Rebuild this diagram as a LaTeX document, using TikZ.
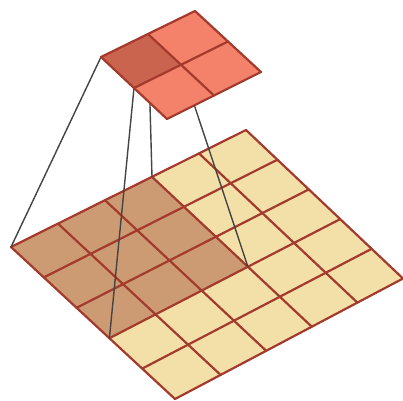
\documentclass[tikz,border=0pt]{standalone}
\definecolor{cellyellow}{HTML}{F3E0A9}
\definecolor{cellshade}{HTML}{CC9B74}
\definecolor{gridred}{HTML}{A33A2C}
\definecolor{topcell}{HTML}{F4826A}
\definecolor{topshade}{HTML}{CB644E}
\definecolor{wire}{HTML}{444444}
\tikzset{
  gridline/.style={draw=gridred,line width=2.2pt,line join=round,line cap=round},
  wireline/.style={draw=wire,line width=1.4pt,line cap=round},
}
\begin{document}
\begin{tikzpicture}[x=1pt,y=-1pt]
\useasboundingbox (0,0) rectangle (403,400);
\fill[white] (0,0) rectangle (403,400);
% lower grid: bilinear interpolation between its four corners
\def\Lx{11}\def\Ly{247}\def\Tx{246}\def\Ty{130}\def\Bx{175}\def\By{399}\def\Rx{403}\def\Ry{278.5}
\foreach \i in {0,...,5}{\foreach \j in {0,...,5}{
  \pgfmathsetmacro{\uu}{\i/5}\pgfmathsetmacro{\vv}{\j/5}
  \pgfmathsetmacro{\px}{(1-\uu)*(1-\vv)*\Lx+\uu*(1-\vv)*\Tx+(1-\uu)*\vv*\Bx+\uu*\vv*\Rx}
  \pgfmathsetmacro{\py}{(1-\uu)*(1-\vv)*\Ly+\uu*(1-\vv)*\Ty+(1-\uu)*\vv*\By+\uu*\vv*\Ry}
  \coordinate (a-\i-\j) at (\px,\py);
}}
\fill[cellyellow] (a-0-0) -- (a-5-0) -- (a-5-5) -- (a-0-5) -- cycle;
\fill[cellshade] (a-0-0) -- (a-3-0) -- (a-3-3) -- (a-0-3) -- cycle;
\foreach \i in {0,...,5}{
  \draw[gridline] (a-\i-0) -- (a-\i-5);
  \draw[gridline] (a-0-\i) -- (a-5-\i);
}
% upper grid corners
\coordinate (t00) at (101,57);
\coordinate (t20) at (195,11);
\coordinate (t22) at (261,72);
\coordinate (t02) at (167,119);
\coordinate (t10) at (148,34);
\coordinate (t01) at (134,88);
\coordinate (t11) at (181,65);
\coordinate (t21) at (228,41.5);
\coordinate (t12) at (214,95.5);
% wires, running behind the upper grid
\draw[wireline] (t00) -- (a-0-0);
\draw[wireline] (t01) -- (a-0-3);
\draw[wireline] (t10) -- (a-3-0);
\draw[wireline] (t11) -- (a-3-3);
% upper grid
\fill[topcell] (t00) -- (t20) -- (t22) -- (t02) -- cycle;
\fill[topshade] (t00) -- (t10) -- (t11) -- (t01) -- cycle;
\draw[gridline] (t00) -- (t20) -- (t22) -- (t02) -- cycle;
\draw[gridline] (t10) -- (t12);
\draw[gridline] (t01) -- (t21);
\end{tikzpicture}
\end{document}
